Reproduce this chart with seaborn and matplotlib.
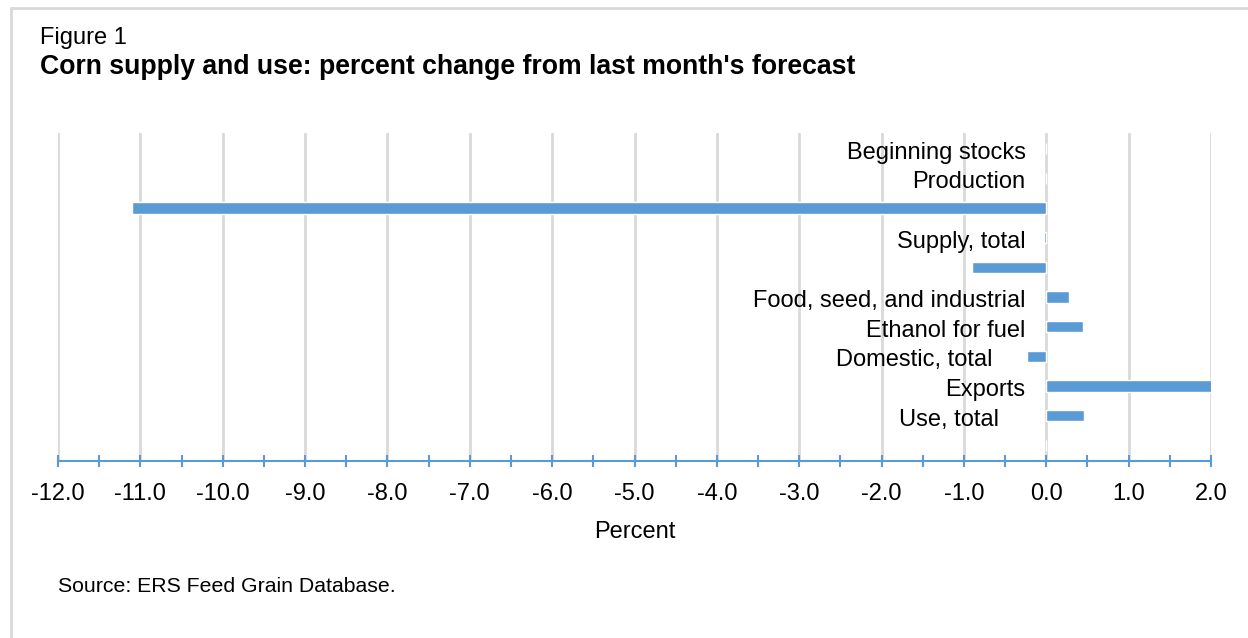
import matplotlib
matplotlib.use('Agg')
import matplotlib.pyplot as plt
import seaborn as sns
import pandas as pd
from matplotlib.lines import Line2D
from matplotlib.ticker import MultipleLocator

# data (percent change from last month)
categories = ['Beginning stocks', 'Production', 'Imports', 'Supply, total',
              'Feed and residual', 'Food, seed, and industrial', 'Ethanol for fuel',
              'Domestic, total', 'Exports', 'Use, total', 'Ending stocks']
pct_change = [0.0, 0.0, -11.1, -0.03, -0.9, 0.28, 0.44, -0.23, 2.02, 0.46, 0.0]
# labels as they show up on the chart (some are hidden there)
shown_labels = ['Beginning stocks', 'Production', '', 'Supply, total', '',
                'Food, seed, and industrial', 'Ethanol for fuel', 'Domestic, total',
                'Exports', 'Use, total', '']
label_ends = [-0.25, -0.25, -0.25, -0.25, -0.25, -0.25, -0.25, -0.65, -0.25, -0.58, -0.25]
x_ticks = [-12, -11, -10, -9, -8, -7, -6, -5, -4, -3, -2, -1, 0, 1, 2]

df = pd.DataFrame({'category': categories, 'pct': pct_change})

sns.set_style('white')
plt.rcParams['font.family'] = ['Liberation Sans', 'DejaVu Sans']
plt.rcParams['text.color'] = 'black'
plt.rcParams['axes.labelcolor'] = 'black'
plt.rcParams['xtick.labelcolor'] = 'black'

blue = '#5b9bd5'
fig = plt.figure(figsize=(12.48, 6.38), dpi=100)
ax = fig.add_axes([58 / 1248, 1 - 461 / 638, (1211 - 58) / 1248, (461 - 133) / 638])

sns.barplot(data=df, x='pct', y='category', orient='h', color=blue,
            width=0.38, saturation=1, ax=ax)

ax.set_xlim(-12, 2)
ax.set_ylim(len(categories) - 0.5 + 0.03, -0.5 - 0.03)
ax.set_xticks(x_ticks)
ax.set_xticklabels(['%.1f' % t for t in x_ticks], fontsize=17)
ax.xaxis.set_minor_locator(MultipleLocator(0.5))
ax.tick_params(axis='x', which='both', direction='inout', length=8, width=1.5,
               color=blue, pad=12, bottom=True)
ax.set_yticks([])
ax.set_ylabel('')
ax.set_xlabel('Percent', fontsize=17, labelpad=11)
ax.grid(axis='x', color='#d9d9d9', linewidth=2)
ax.set_axisbelow(True)
for side in ['top', 'right', 'left']:
    ax.spines[side].set_visible(False)
ax.spines['bottom'].set_color(blue)
ax.spines['bottom'].set_linewidth(1.5)

# category labels placed left of the zero line
for i, lab in enumerate(shown_labels):
    if lab:
        ax.text(label_ends[i], i + 0.05, lab, ha='right', va='center_baseline', fontsize=17)

# titles and source
fig.text(40 / 1248, 1 - 38 / 638, 'Figure 1', fontsize=17, va='center')
fig.text(40 / 1248, 1 - 67 / 638, "Corn supply and use: percent change from last month's forecast",
         fontsize=19.2, fontweight='bold', va='center')
fig.text(58 / 1248, 1 - 587 / 638, 'Source: ERS Feed Grain Database.', fontsize=15.3, va='center')

# light frame around the figure
fig.add_artist(Line2D([11 / 1248, 1], [1 - 8 / 638, 1 - 8 / 638], color='#d9d9d9', linewidth=2))
fig.add_artist(Line2D([11 / 1248, 11 / 1248], [0, 1 - 8 / 638], color='#d9d9d9', linewidth=2))

fig.savefig('out.png', dpi=100)
